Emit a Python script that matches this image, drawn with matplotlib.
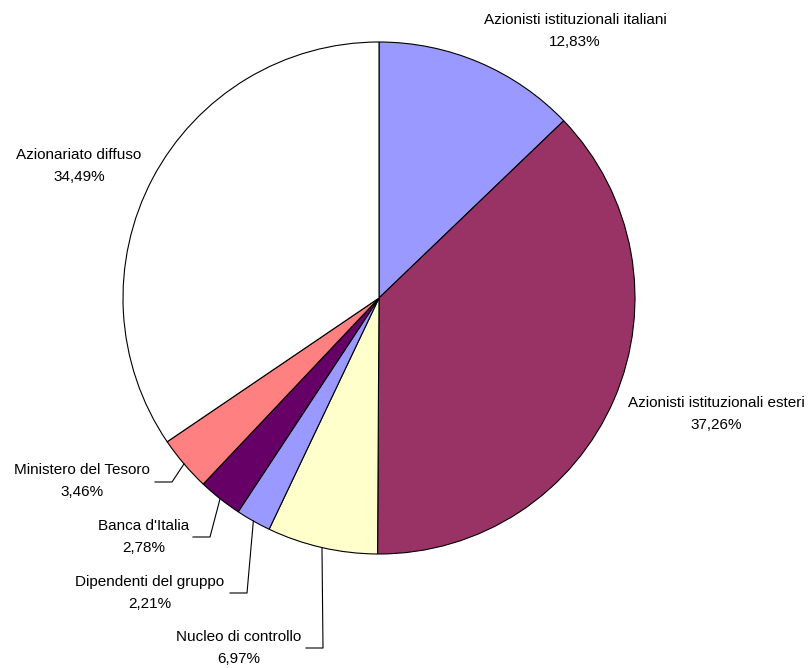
import numpy as np
import matplotlib
matplotlib.use("Agg")
import matplotlib.pyplot as plt

labels = ["Azionisti istituzionali italiani", "Azionisti istituzionali esteri",
          "Nucleo di controllo", "Dipendenti del gruppo", "Banca d'Italia",
          "Ministero del Tesoro", "Azionariato diffuso"]
values = [12.83, 37.26, 6.97, 2.21, 2.78, 3.46, 34.49]
colors = ["#9999FF", "#993366", "#FFFFCC", "#9999FF", "#660066", "#FF8080", "#FFFFFF"]

# label text centres (pixels from top-left) and leader lines (None = no leader)
label_pos = [(575, 20), (716, 403), (239, 637), (150, 582), (144, 526), (82, 470), (79, 155)]
starts = [None, None, (306, 648), (230, 593), (193, 537), (155, 482), None]
elbows = [None, None, (323, 648), (247, 593), (210, 537), (172, 482), None]

W, H = 809, 668
cx, cy, R = 379, 298, 256

plt.rcParams['font.family'] = ['Liberation Sans', 'DejaVu Sans']
fig = plt.figure(figsize=(W / 100, H / 100), dpi=100)
ax = fig.add_axes([0, 0, 1, 1])

wedges, _ = ax.pie(values, colors=colors, startangle=90, counterclock=False,
                   center=(cx, H - cy), radius=R,
                   wedgeprops=dict(edgecolor="black", linewidth=0.8))
ax.set_xlim(0, W)
ax.set_ylim(0, H)
ax.set_aspect("equal")
ax.axis("off")

for i, w in enumerate(wedges):
    tx, ty = label_pos[i]
    ax.text(tx, H - ty, labels[i], ha="center", va="center", fontsize=11)
    ax.text(tx, H - ty - 22, f"{values[i]:.2f}%".replace(".", ","),
            ha="center", va="center", fontsize=11)
    if elbows[i] is not None:
        mid = np.deg2rad((w.theta1 + w.theta2) / 2)
        px = cx + R * np.cos(mid)
        py = H - cy + R * np.sin(mid)
        sx, sy = starts[i]
        ex, ey = elbows[i]
        ax.plot([sx, ex, px], [H - sy, H - ey, py], color="black", lw=0.8)

fig.savefig("out.png", dpi=100)
